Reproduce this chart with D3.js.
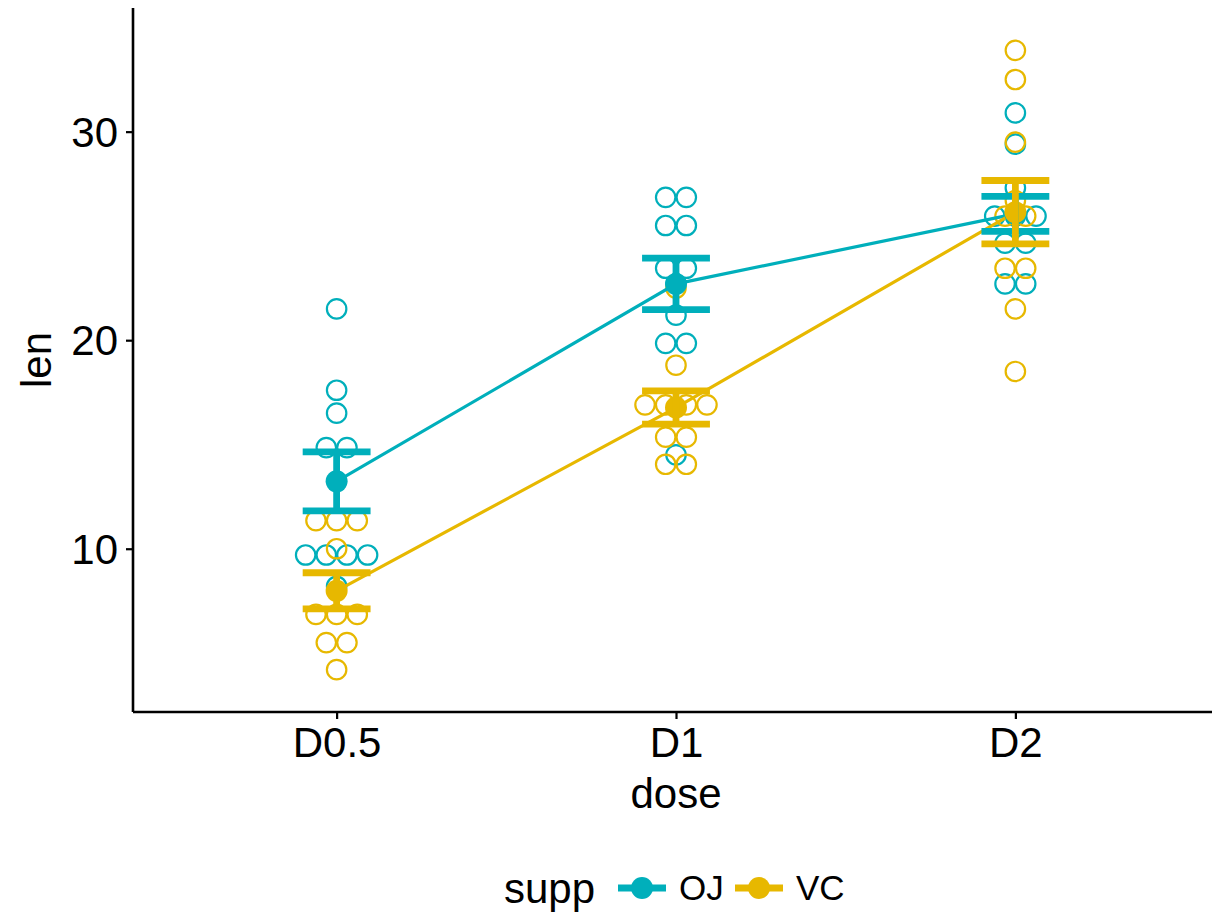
<!DOCTYPE html>
<html>
<head>
<meta charset="utf-8">
<script src="https://cdn.jsdelivr.net/npm/d3@7"></script>
<style>
  html, body { margin: 0; padding: 0; background: #fff; }
  svg { display: block; }
  text { font-family: "Liberation Sans", Arial, Helvetica, sans-serif; fill: #000; }
</style>
</head>
<body>
<svg id="chart" width="1212" height="916"></svg>
<script>
// Tooth length by dose and supplement (ToothGrowth)
const doses = ["D0.5", "D1", "D2"];
const supps = ["OJ", "VC"];
const suppColors = ["#00AFBB", "#E7B800"];

const lenOJ = [
  [15.2, 21.5, 17.6, 9.7, 14.5, 10.0, 8.2, 9.4, 16.5, 9.7],
  [19.7, 23.3, 23.6, 26.4, 20.0, 25.2, 25.8, 21.2, 14.5, 27.3],
  [25.5, 26.4, 22.4, 24.5, 24.8, 30.9, 26.4, 27.3, 29.4, 23.0]
];
const lenVC = [
  [4.2, 11.5, 7.3, 5.8, 6.4, 10.0, 11.2, 11.2, 5.2, 7.0],
  [16.5, 16.5, 15.2, 17.3, 22.5, 17.3, 13.6, 14.5, 18.8, 15.5],
  [23.6, 18.5, 33.9, 25.5, 26.4, 32.5, 26.7, 21.5, 23.3, 29.5]
];
const yTicks = [10, 20, 30];

const seriesLen = [lenOJ, lenVC];

const svg = d3.select("#chart");
const W = 1212, H = 916;
const margin = { left: 133, top: 8, bottom: 712, right: 1219 };

// Bin width: 1/30 of the data range
const allVals = seriesLen.flat(2);
const [vMin, vMax] = d3.extent(allVals);
const binwidth = (vMax - vMin) / 30;

// Y domain: data range widened by half a bin, then 5% expansion
const lo = vMin - binwidth / 2, hi = vMax + binwidth / 2;
const pad = (hi - lo) * 0.05;
const y = d3.scaleLinear().domain([lo - pad, hi + pad]).range([margin.bottom, margin.top]);
const x = d3.scalePoint().domain(doses).range([margin.left, margin.right]).padding(0.6);
const step = x.step();

// Dot-density binning (scan left to right, bin centre = midpoint of members)
function dotBins(values) {
  const v = values.slice().sort((a, b) => a - b);
  const bins = [];
  let end = -Infinity, cur = null;
  for (const val of v) {
    if (val >= end) {
      end = val + binwidth;
      cur = [];
      bins.push(cur);
    }
    cur.push(val);
  }
  return bins.map(b => ({ center: (d3.min(b) + d3.max(b)) / 2, count: b.length }));
}

const dotD = Math.abs(y(0) - y(binwidth)); // dot diameter in px

// Summary: mean and standard error
const summary = seriesLen.map(groups => groups.map((vals, i) => {
  const m = d3.mean(vals);
  const se = d3.deviation(vals) / Math.sqrt(vals.length);
  return { dose: doses[i], mean: m, lo: m - se, hi: m + se };
}));

const plot = svg.append("g");

// Dots
seriesLen.forEach((groups, s) => {
  groups.forEach((vals, i) => {
    const cx0 = x(doses[i]);
    dotBins(vals).forEach(b => {
      for (let k = 0; k < b.count; k++) {
        const off = (k - (b.count - 1) / 2) * dotD;
        plot.append("circle")
          .attr("cx", cx0 + off)
          .attr("cy", y(b.center))
          .attr("r", dotD / 2 - 0.6)
          .attr("fill", "none")
          .attr("stroke", suppColors[s])
          .attr("stroke-width", 2.2);
      }
    });
  });
});

// Lines through the means
const line = d3.line().x(d => x(d.dose)).y(d => y(d.mean));
summary.forEach((sm, s) => {
  plot.append("path")
    .attr("d", line(sm))
    .attr("fill", "none")
    .attr("stroke", suppColors[s])
    .attr("stroke-width", 3.2);
});

// Mean points
summary.forEach((sm, s) => {
  sm.forEach(d => {
    plot.append("circle")
      .attr("cx", x(d.dose)).attr("cy", y(d.mean))
      .attr("r", 11)
      .attr("fill", suppColors[s]);
  });
});

// Error bars (mean ± se)
const capHalf = step * 0.1;
summary.forEach((sm, s) => {
  sm.forEach(d => {
    const cx = x(d.dose);
    const g = plot.append("g").attr("stroke", suppColors[s]).attr("stroke-width", 6.8).attr("fill", "none");
    g.append("line").attr("x1", cx).attr("x2", cx).attr("y1", y(d.lo)).attr("y2", y(d.hi));
    g.append("line").attr("x1", cx - capHalf).attr("x2", cx + capHalf).attr("y1", y(d.lo)).attr("y2", y(d.lo));
    g.append("line").attr("x1", cx - capHalf).attr("x2", cx + capHalf).attr("y1", y(d.hi)).attr("y2", y(d.hi));
  });
});

// Axes
const fontSize = 42;
const yAxis = svg.append("g")
  .attr("transform", `translate(${margin.left},0)`)
  .call(d3.axisLeft(y).tickValues(yTicks).tickSize(7).tickPadding(8).tickFormat(d3.format("d")));
yAxis.select(".domain").attr("d", `M0,${margin.top}V${margin.bottom}`).attr("stroke", "#000").attr("stroke-width", 2.6);
yAxis.selectAll(".tick line").attr("stroke", "#000").attr("stroke-width", 2.2);
yAxis.selectAll(".tick text").attr("font-size", fontSize).attr("font-family", "Liberation Sans, Arial, sans-serif").attr("fill", "#000").attr("dy", "0.35em");

const xAxis = svg.append("g")
  .attr("transform", `translate(0,${margin.bottom})`)
  .call(d3.axisBottom(x).tickSize(7).tickPadding(8));
xAxis.select(".domain").attr("d", `M${margin.left},0H${W + 10}`).attr("stroke", "#000").attr("stroke-width", 2.6);
xAxis.selectAll(".tick line").attr("stroke", "#000").attr("stroke-width", 2.2);
xAxis.selectAll(".tick text").attr("font-size", fontSize).attr("font-family", "Liberation Sans, Arial, sans-serif").attr("fill", "#000");

// Axis titles
svg.append("text")
  .attr("x", x("D1")).attr("y", 808)
  .attr("text-anchor", "middle")
  .attr("font-size", fontSize)
  .text("dose");
svg.append("text")
  .attr("transform", `translate(51,${(margin.top + margin.bottom) / 2}) rotate(-90)`)
  .attr("text-anchor", "middle")
  .attr("font-size", fontSize)
  .text("len");

// Legend
const legY = 888;
const legend = svg.append("g");
legend.append("text").attr("x", 504).attr("y", legY).attr("dy", "0.35em").attr("font-size", fontSize).text("supp");
const keyX = [618, 735];
supps.forEach((s, i) => {
  const kx = keyX[i];
  legend.append("line").attr("x1", kx).attr("x2", kx + 48).attr("y1", legY).attr("y2", legY)
    .attr("stroke", suppColors[i]).attr("stroke-width", 7);
  legend.append("circle").attr("cx", kx + 24).attr("cy", legY).attr("r", 11).attr("fill", suppColors[i]);
  legend.append("text").attr("x", kx + 61).attr("y", legY).attr("dy", "0.35em").attr("font-size", 35).text(s);
});
</script>
</body>
</html>
